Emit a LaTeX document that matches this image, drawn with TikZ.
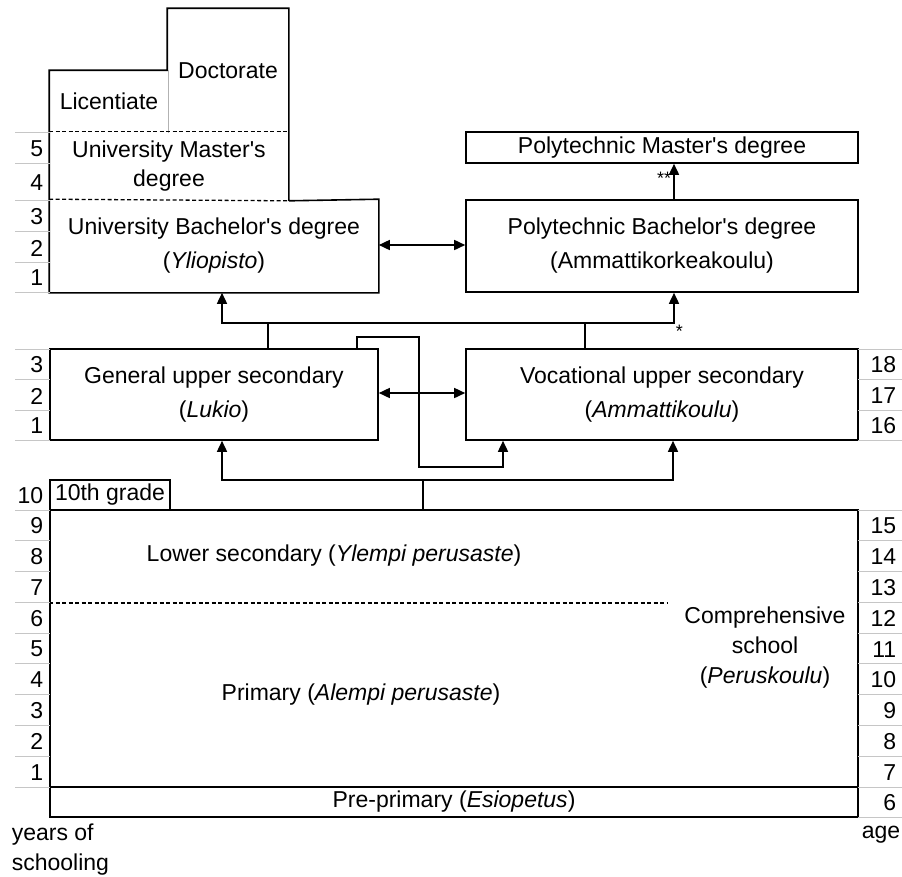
\documentclass[tikz,border=0pt]{standalone}
\usepackage{fontspec}
\setmainfont{Liberation Sans}
\usetikzlibrary{arrows.meta}
\newcommand{\apos}{\textquotesingle}

\tikzset{
  box/.style={draw, align=center, inner sep=0pt, font=\fontsize{23}{34}\selectfont},
  area/.style={align=center, inner sep=0pt, font=\fontsize{23}{34}\selectfont},
  txt/.style={inner sep=0pt, font=\fontsize{23}{30}\selectfont},
  num/.style={inner sep=0pt, anchor=east, font=\fontsize{23}{26}\selectfont},
  scale line/.style={gray!45, line width=1pt},
  dashed line/.style={line width=1.3pt, dash pattern=on 4pt off 2.5pt}
}

\begin{document}
\begin{tikzpicture}[x=1pt, y=-1pt, line width=1.6pt, >={Triangle[length=11pt,width=10pt]}]
\useasboundingbox (0,0) rectangle (902,876);

% University
\node[area, minimum width=118, minimum height=61] (lic) at (109,101.5) {Licentiate};
\node[area, minimum width=120, minimum height=123] (doc) at (228,70.5) {Doctorate};
\node[area, minimum width=238, minimum height=68, font=\fontsize{23}{29}\selectfont] (umast) at (169,166) {University Master\apos s\\degree};
\node[area, minimum width=328, minimum height=92] (ubach) at (214,246) {University Bachelor\apos s degree\\(\textit{Yliopisto})};
\draw (umast.south east) |- (doc.north west) |- (lic.north west) -- (ubach.south west) -| (ubach.north east) -- (umast.south east);
\draw[gray!60, line width=1pt] (lic.north east) -- (lic.south east);
\draw[dashed line] (umast.north west) -- (umast.north east);
\draw[dashed line] (ubach.north west) -- (umast.south east);

% Polytechnic
\node[box, minimum width=392, minimum height=31] (pmast) at (662,147.5) {Polytechnic Master\apos s degree};
\node[box, minimum width=392, minimum height=92] (pbach) at (662,246) {Polytechnic Bachelor\apos s degree\\(Ammattikorkeakoulu)};

% Upper secondary
\node[box, minimum width=328, minimum height=91] (lukio) at (214,394.5) {General upper secondary\\(\textit{Lukio})};
\node[box, minimum width=392, minimum height=91] (voc) at (662,394.5) {Vocational upper secondary\\(\textit{Ammattikoulu})};

% Comprehensive school
\node[box, minimum width=120, minimum height=30] (tenth) at (110,495) {10th grade};
\node[box, minimum width=808, minimum height=277] (comp) at (454,648.5) {};
\node[box, minimum width=808, minimum height=30] (pre) at (454,802) {Pre-primary (\textit{Esiopetus})};
\node[txt] (lowsec) at (334,556) {Lower secondary (\textit{Ylempi perusaste})};
\node[txt] (prim) at (361,695) {Primary (\textit{Alempi perusaste})};
\node[txt, align=center] (compname) at (765,648) {Comprehensive\\school\\(\textit{Peruskoulu})};
\coordinate (divide) at (667,603);
\draw[dashed line] (comp.west |- divide) -- (divide);

% Connectors
\draw[<->] ([yshift=1]ubach.east) -- ([yshift=1]pbach.west);
\draw[->] ([xshift=12]pbach.north) -- node[left, inner sep=2pt, yshift=3pt, font=\fontsize{18}{18}\selectfont] {**} ([xshift=12]pmast.south);
\coordinate (busL) at (222,323);
\coordinate (busR) at (674,323);
\draw[<->] (busL |- ubach.south) |- (busR) -- (busR |- pbach.south);
\draw ([xshift=54]lukio.north) -- ([xshift=54]lukio.north |- busL);
\draw ([xshift=-77]voc.north) -- ([xshift=-77]voc.north |- busR);
\node[below right, inner sep=1pt, font=\fontsize{18}{18}\selectfont] (star) at (busR) {*};
\draw[<->] ([yshift=1.5]lukio.east) -- ([yshift=1.5]voc.west);
\coordinate (kink) at (419,467);
\draw[->] ([xshift=143]lukio.north) -- ++(0,-11) -| (kink) -| ([xshift=-159]voc.south);
\coordinate (busLL) at (222,480);
\coordinate (busLR) at (673,480);
\draw[<->] (busLL |- lukio.south) |- (busLR) -- (busLR |- voc.south);
\draw ([xshift=-31]comp.north) -- ([xshift=-31]comp.north |- busLL);

% Scales (years of schooling / age)
\foreach \y in {132,163,200,231,262,292,349,379,410,440}
  \draw[scale line] (15,\y) -- (50,\y);
\foreach \n/\y in {5/149, 4/183, 3/217, 2/248, 1/278, 3/365, 2/396, 1/426, 10/496}
  \node[num] at (44,\y) {\n};
\foreach \k in {0,...,9}
  \draw[scale line] (15,{510+30.78*\k}) -- (50,{510+30.78*\k});
\foreach \k in {0,...,10}
  \draw[scale line] (858,{510+30.78*\k}) -- (902,{510+30.78*\k});
\foreach \y in {349,379,410,440}
  \draw[scale line] (858,\y) -- (902,\y);
\foreach \n/\y in {18/365, 17/396, 16/426}
  \node[num] at (897,\y) {\n};
\foreach \n [count=\k from 0] in {9,8,7,6,5,4,3,2,1}
  \node[num] at (44,{526+30.78*\k}) {\n};
\foreach \n [count=\k from 0] in {15,14,13,12,11,10,9,8,7,6}
  \node[num] at (897,{526+30.78*\k}) {\n};

% Captions
\node[txt, anchor=west] (years) at (11,835) {years of};
\node[txt, anchor=west] (schooling) at (11,865) {schooling};
\node[txt, anchor=east] (age) at (901,835) {age};
\end{tikzpicture}
\end{document}
